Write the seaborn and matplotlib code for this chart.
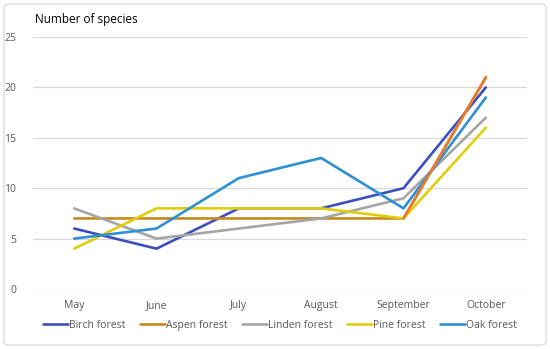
import pandas as pd
import matplotlib.pyplot as plt
import seaborn as sns
from matplotlib.patches import FancyBboxPatch

months = ["May", "June", "July", "August", "September", "October"]
birch = [6, 4, 8, 8, 10, 20]
aspen = [7, 7, 7, 7, 7, 21]
linden = [8, 5, 6, 7, 9, 17]
pine = [4, 8, 8, 8, 7, 16]
oak = [5, 6, 11, 13, 8, 19]

series = {
    "Birch forest": birch,
    "Aspen forest": aspen,
    "Linden forest": linden,
    "Pine forest": pine,
    "Oak forest": oak,
}
colors = {
    "Birch forest": "#3B4FBE",
    "Aspen forest": "#C48A1E",
    "Linden forest": "#A5A5A5",
    "Pine forest": "#E3CC0C",
    "Oak forest": "#2E8FD2",
}

rows = []
for name, vals in series.items():
    for m, v in zip(months, vals):
        rows.append({"Month": m, "Species": v, "Forest": name})
df = pd.DataFrame(rows)

sns.set_theme(style="white")
plt.rcParams['font.family'] = ['Open Sans', 'DejaVu Sans']

fig = plt.figure(figsize=(5.5, 3.49), dpi=100)
ax = fig.add_axes([33 / 550, 1 - 289 / 349, (527 - 33) / 550, (289 - 37) / 349])

sns.lineplot(data=df, x="Month", y="Species", hue="Forest", palette=colors,
             linewidth=1.9, sort=False, ax=ax, legend=True)

# the aspen line fades to orange on its last rise
aspen_end = df[(df["Forest"] == "Aspen forest") & df["Month"].isin(["September", "October"])]
sns.lineplot(data=aspen_end, x="Month", y="Species", color="#E9792E",
             linewidth=1.9, sort=False, ax=ax, legend=False, zorder=1.9)

ax.set_xlim(-0.5, 5.5)
ax.set_ylim(0, 25)
ax.set_yticks(range(0, 26, 5))
ax.yaxis.grid(True, color="#D9D9D9", linewidth=0.9)
ax.set_axisbelow(True)
for s in ax.spines.values():
    s.set_visible(False)
ax.tick_params(axis="both", length=0, labelsize=7.5, colors="#595959", pad=8)
ax.tick_params(axis="y", pad=12)
ax.set_xlabel("")
ax.set_ylabel("")

fig.text(35 / 550, 1 - 20 / 349, "Number of species", fontsize=8.5, color="#000000",
         va="center", ha="left")

handles, labels = ax.get_legend_handles_labels()
leg = ax.legend(handles[:5], labels[:5], loc="center", bbox_to_anchor=(0.5, -0.145),
                ncol=5, frameon=False, fontsize=7.5, handlelength=2.4,
                handletextpad=0.1, columnspacing=1.4)
for t in leg.get_texts():
    t.set_color("#595959")

# put the orange segment above the other lines near October
ax.lines[-1].set_zorder(2.5)

border = FancyBboxPatch((4 / 550, 4 / 349), 542 / 550, 341 / 349,
                        boxstyle="round,pad=0,rounding_size=0.01",
                        transform=fig.transFigure, fill=False,
                        edgecolor="#D9D9D9", linewidth=0.9)
fig.patches.append(border)

fig.savefig("out.png", dpi=100)
